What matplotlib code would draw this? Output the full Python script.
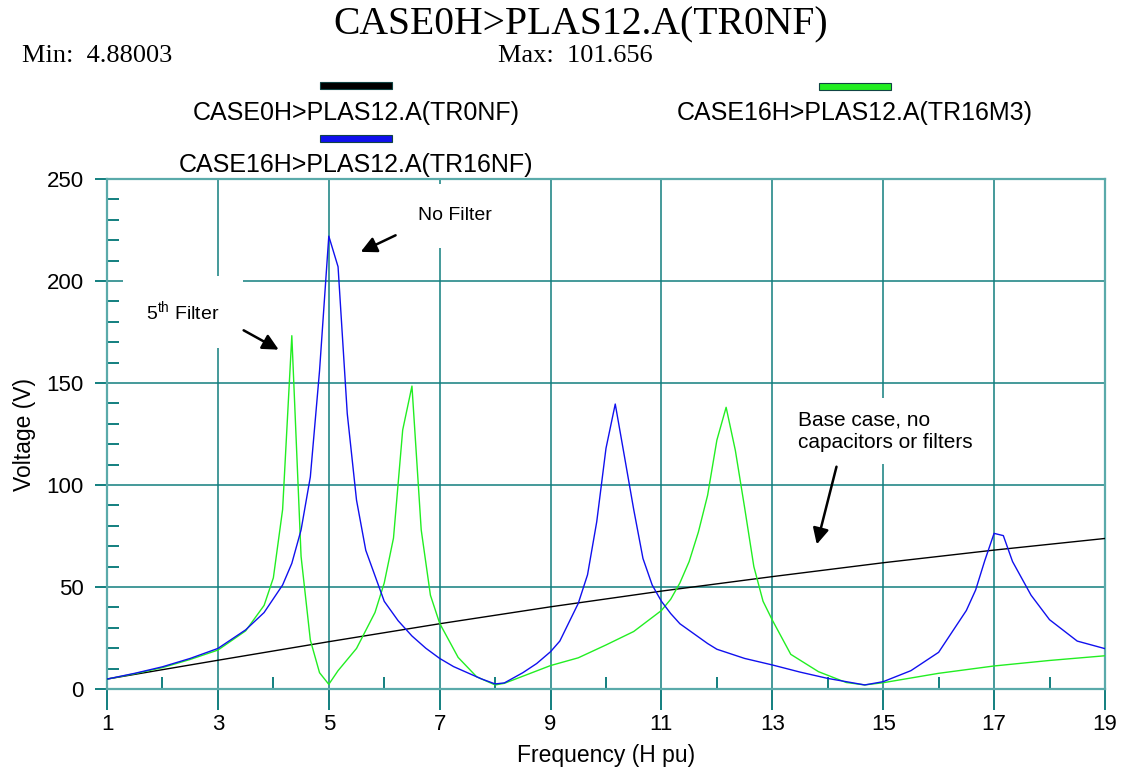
import matplotlib
matplotlib.use("Agg")
import matplotlib.pyplot as plt
from matplotlib.patches import Rectangle
from matplotlib.ticker import MultipleLocator

plt.rcParams['font.family'] = ['Liberation Sans', 'DejaVu Sans']
plt.rcParams['mathtext.fontset'] = 'custom'
plt.rcParams['mathtext.rm'] = 'Liberation Sans'

# base case, no capacitors or filters
x_tr0nf = [1, 3, 5, 7, 9, 11, 13, 15, 17, 19]
v_tr0nf = [4.88, 14.1, 23.2, 32.0, 40.3, 48.0, 55.1, 61.9, 68.1, 73.8]

# no filter
x_tr16nf = [1, 1.5, 2, 2.5, 3, 3.5, 3.833, 4.167, 4.333, 4.5, 4.667, 4.833, 5.0, 5.167,
            5.333, 5.5, 5.667, 6.0, 6.25, 6.5, 6.75, 7.0, 7.25, 7.5, 7.75, 8.0, 8.167,
            8.5, 8.75, 9.0, 9.167, 9.5, 9.667, 9.833, 10.0, 10.167, 10.333, 10.5,
            10.667, 10.833, 11.0, 11.167, 11.333, 11.833, 12.0, 12.5, 13.0, 13.5, 14.0,
            14.667, 15.0, 15.5, 16.0, 16.5, 16.667, 16.833, 17.0, 17.167, 17.333,
            17.667, 18.0, 18.5, 19.0]
v_tr16nf = [4.88, 7.7, 10.9, 15.0, 19.9, 29.0, 37.5, 51.0, 61.6, 78.0, 104.0, 156.0, 222.0, 207.0,
            135.0, 92.6, 68.0, 43.0, 33.5, 26.0, 20.0, 15.0, 11.0, 8.0, 5.0, 2.5, 3.0,
            8.0, 12.5, 18.3, 23.5, 42.0, 56.0, 82.0, 118.0, 139.7, 114.0, 88.0,
            64.0, 51.0, 43.0, 37.0, 32.0, 22.3, 19.5, 15.0, 11.8, 8.3, 5.2,
            2.0, 3.6, 9.0, 18.0, 38.5, 48.5, 63.0, 76.3, 75.2, 62.5,
            46.0, 34.0, 23.5, 19.8]

# 5th filter
x_tr16m3 = [1, 1.5, 2, 2.5, 3, 3.5, 3.833, 4.0, 4.167, 4.333, 4.5, 4.667, 4.833, 5.0, 5.167,
            5.5, 5.833, 6.0, 6.167, 6.333, 6.5, 6.667, 6.833, 7.0, 7.333, 7.667,
            8.0, 8.167, 9.0, 9.5, 10.0, 10.5, 11.0, 11.167, 11.333, 11.5, 11.667,
            11.833, 12.0, 12.167, 12.333, 12.5, 12.667, 12.833, 13.0, 13.333,
            13.833, 14.333, 14.667, 15.0, 16.0, 17.0, 18.0, 19.0]
v_tr16m3 = [4.88, 7.5, 10.5, 14.5, 19.1, 28.5, 41.0, 54.5, 88.0, 173.2, 65.0, 24.0, 8.0, 2.3, 9.0,
            19.9, 37.5, 52.0, 74.0, 127.0, 148.5, 78.0, 46.0, 32.2, 15.5, 6.0,
            2.0, 2.8, 11.5, 15.3, 21.6, 28.2, 38.5, 44.0, 52.0, 62.5, 77.0,
            95.0, 122.0, 138.1, 117.0, 89.0, 60.0, 43.0, 33.8, 17.0,
            8.5, 3.2, 2.0, 3.1, 7.7, 11.3, 14.0, 16.3]

x_major = [1, 3, 5, 7, 9, 11, 13, 15, 17, 19]
x_minor = [2, 4, 6, 8, 10, 12, 14, 16, 18]

teal = '#127f7f'
axcol = '#5aaaaa'

fig = plt.figure(figsize=(11.22, 7.69), dpi=100)
ax = fig.add_axes([0.0954, 0.1040, 0.8894, 0.6632])

ax.plot(x_tr0nf, v_tr0nf, color='black', lw=1.0, zorder=3)
ax.plot(x_tr16m3, v_tr16m3, color='#22ee22', lw=1.0, zorder=3)
ax.plot(x_tr16nf, v_tr16nf, color='#1010ee', lw=1.0, zorder=4)

ax.set_xlim(1, 19)
ax.set_ylim(0, 250)
ax.set_xticks(x_major)
ax.set_xticks(x_minor, minor=True)
ax.yaxis.set_major_locator(MultipleLocator(50))
ax.yaxis.set_minor_locator(MultipleLocator(10))
ax.grid(True, which='major', color=teal, lw=1.1, zorder=1)
ax.set_axisbelow(True)
for s in ax.spines.values():
    s.set_color(axcol)
    s.set_linewidth(1.6)
ax.tick_params(axis='x', which='major', direction='out', length=15, width=1.4,
               color=teal, labelsize=16, pad=3)
ax.tick_params(axis='y', which='major', direction='out', length=8.6, width=1.4,
               color=teal, labelsize=16, pad=8)
ax.tick_params(axis='both', which='minor', direction='in', length=8.4, width=1.4,
               color=teal)

ax.set_xlabel('Frequency (H pu)', fontsize=16.5)
ax.set_ylabel('Voltage (V)', fontsize=16.5)
ax.xaxis.set_label_coords(0.5, -0.108)
ax.yaxis.set_label_coords(-0.071, 0.5)

# annotations
ax.text(7.28, 231.9, 'No Filter', fontsize=14, ha='center', va='center', zorder=2,
        bbox=dict(boxstyle='square,pad=1.2', fc='white', ec='none'))
ax.annotate('', xy=(5.53, 213.7), xytext=(6.25, 223.0), zorder=2,
            arrowprops=dict(arrowstyle='-|>', color='black', lw=1.8, mutation_scale=24))
ax.text(2.37, 184.8, '5$^{\\mathrm{th}}$ Filter', fontsize=14, ha='center', va='center',
        zorder=2, bbox=dict(boxstyle='square,pad=1.2', fc='white', ec='none'))
ax.annotate('', xy=(4.14, 165.7), xytext=(3.42, 176.5), zorder=2,
            arrowprops=dict(arrowstyle='-|>', color='black', lw=1.8, mutation_scale=24))
ax.text(13.46, 126.5, 'Base case, no\ncapacitors or filters', fontsize=15, ha='left',
        va='center', linespacing=1.25, zorder=2,
        bbox=dict(boxstyle='square,pad=0.6', fc='white', ec='none'))
ax.annotate('', xy=(13.79, 69.6), xytext=(14.17, 110.3), zorder=2,
            arrowprops=dict(arrowstyle='-|>', color='black', lw=1.8, mutation_scale=24))

# header texts
fig.text(0.5178, 0.9675, 'CASE0H>PLAS12.A(TR0NF)', family='Liberation Serif',
         fontsize=28.5, ha='center', va='center')
fig.text(0.0196, 0.9270, 'Min:  4.88003', family='Liberation Serif', fontsize=19,
         ha='left', va='center')
fig.text(0.4439, 0.9270, 'Max:  101.656', family='Liberation Serif', fontsize=19,
         ha='left', va='center')

# legend
legend_items = [
    ('CASE0H>PLAS12.A(TR0NF)', 'black', 0.2852, 0.8843, 0.3173, 0.8531),
    ('CASE16H>PLAS12.A(TR16NF)', '#1010ee', 0.2852, 0.8153, 0.3173, 0.7854),
    ('CASE16H>PLAS12.A(TR16M3)', '#22ee22', 0.7299, 0.8830, 0.7620, 0.8531),
]
for label, col, bx, by, tx, ty in legend_items:
    fig.patches.append(Rectangle((bx, by), 0.0642, 0.0091, transform=fig.transFigure,
                                 fc=col, ec='#114444', lw=0.8))
    fig.text(tx, ty, label, fontsize=18, ha='center', va='center')

fig.savefig('out.png', dpi=100)
